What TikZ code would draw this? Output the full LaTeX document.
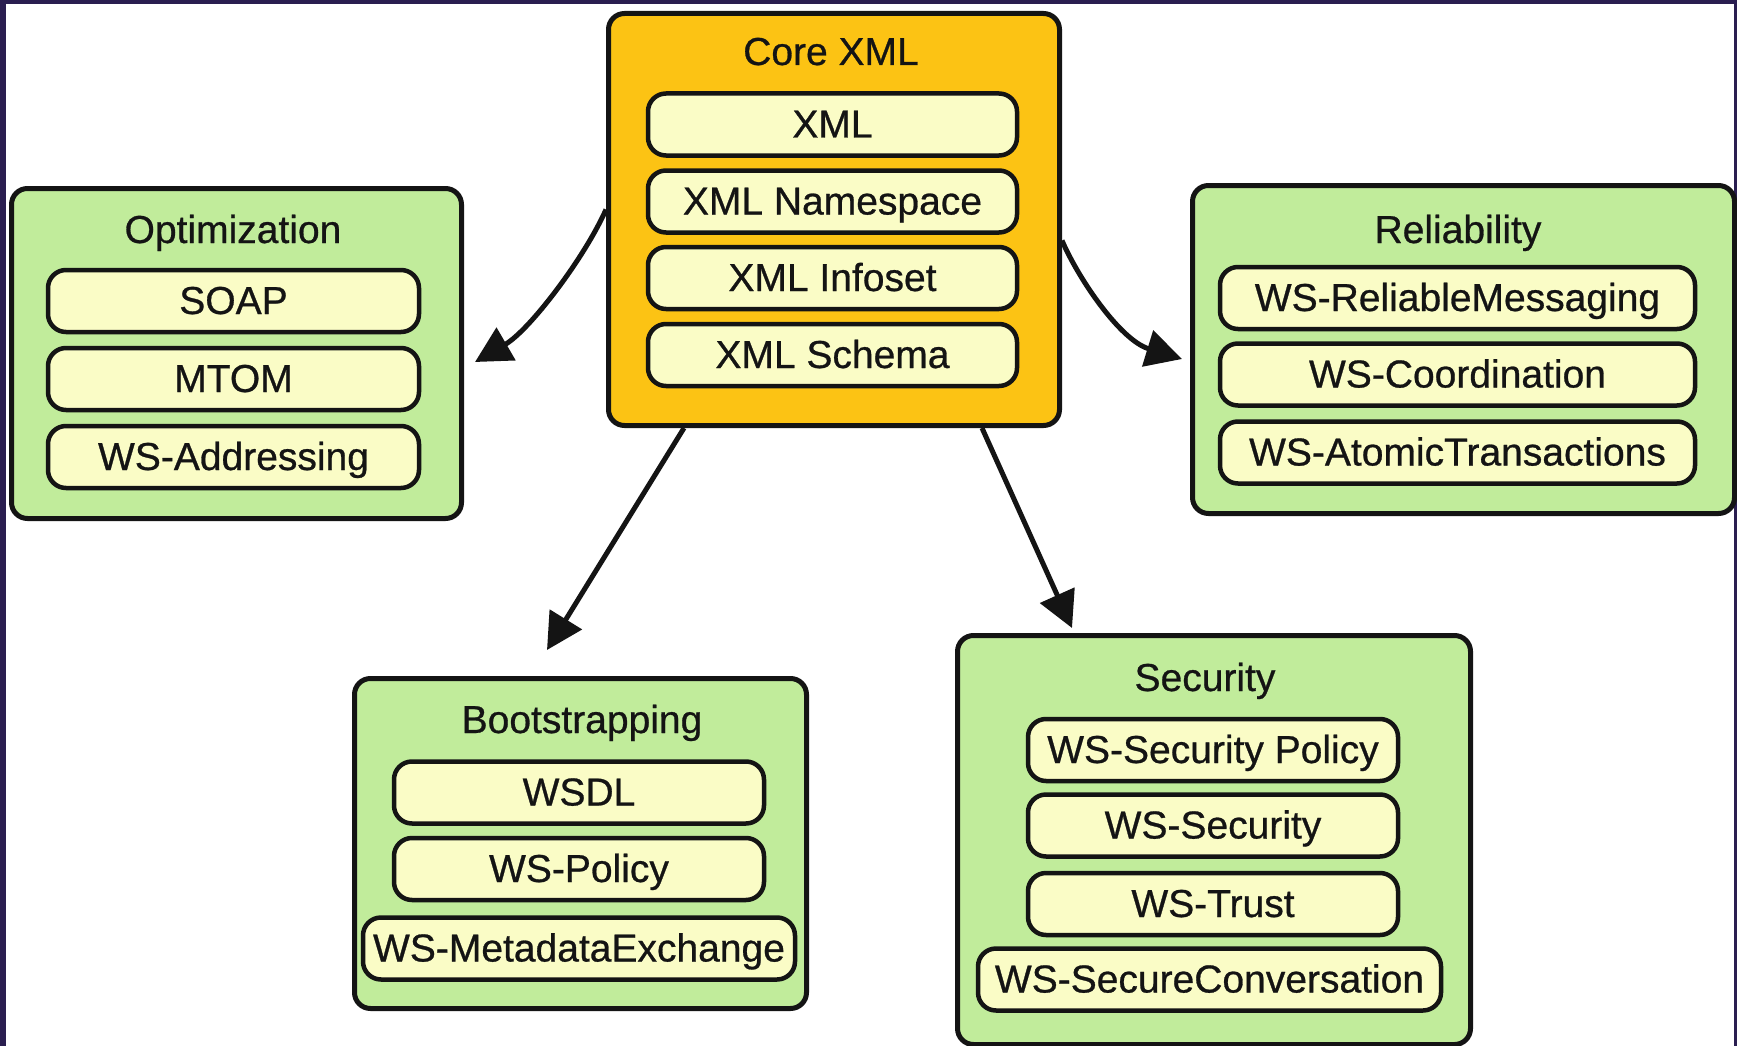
\documentclass[tikz,border=0pt]{standalone}
\usepackage{fontspec}
\setmainfont{Liberation Sans}[FakeBold=0.7]
\usetikzlibrary{arrows.meta}
\definecolor{framec}{HTML}{2A1E50}
\definecolor{corefill}{HTML}{FCC314}
\definecolor{grpfill}{HTML}{C1EC9B}
\definecolor{itemfill}{HTML}{FAFCC6}
\definecolor{ink}{HTML}{141414}
\tikzset{
  grp/.style={draw=ink, line width=5pt, rounded corners=16pt, fill=grpfill, anchor=north west, inner sep=0pt},
  corebox/.style={grp, fill=corefill},
  item/.style={draw=ink, line width=4.5pt, rounded corners=18pt, fill=itemfill, inner sep=0pt,
    font=\fontsize{39}{41}\selectfont, text=ink, text height=28pt, text depth=2pt, minimum height=62pt},
  ttl/.style={font=\fontsize{39}{41}\selectfont, text=ink, inner sep=0pt, text height=28pt, text depth=2pt},
  conn/.style={draw=ink, line width=5pt, -{Triangle[length=36pt,width=37pt]}},
}
\begin{document}
\begin{tikzpicture}[x=1pt,y=-1pt]
\useasboundingbox (0,0) rectangle (1737,1046);
% frame
\fill[framec] (0,0) rectangle (1737,1046);
\fill[white] (6,4) rectangle (1734,1046);

% Core XML
\node[corebox, minimum width=451pt, minimum height=412pt] (core) at (606,11) {};
\node[ttl] (coret) at (831,52) {Core XML};
\node[item, minimum width=369pt] (xml) at (832.5,124.5) {XML};
\node[item, minimum width=369pt] (xmlns) at (832.5,201.5) {XML Namespace};
\node[item, minimum width=369pt] (xmlinf) at (832.5,278) {XML Infoset};
\node[item, minimum width=369pt] (xmlsch) at (832.5,355) {XML Schema};

% Optimization
\node[grp, minimum width=450pt, minimum height=330pt] (opt) at (9,186) {};
\node[ttl] (optt) at (233,230) {Optimization};
\node[item, minimum width=371pt] (soap) at (233.5,301) {SOAP};
\node[item, minimum width=371pt] (mtom) at (233.5,379) {MTOM};
\node[item, minimum width=371pt] (wsa) at (233.5,457) {WS-Addressing};

% Reliability
\node[grp, minimum width=542pt, minimum height=328pt] (rel) at (1190,183) {};
\node[ttl] (relt) at (1458,230) {Reliability};
\node[item, minimum width=475pt] (wsrm) at (1457.5,298) {WS-ReliableMessaging};
\node[item, minimum width=475pt] (wsc) at (1457.5,374.5) {WS-Coordination};
\node[item, minimum width=475pt] (wsat) at (1457.5,452.5) {WS-AtomicTransactions};

% Bootstrapping
\node[grp, minimum width=452pt, minimum height=330pt] (boot) at (352,676) {};
\node[ttl] (boott) at (582,720) {Bootstrapping};
\node[item, minimum width=370pt] (wsdl) at (579,792.5) {WSDL};
\node[item, minimum width=370pt] (wsp) at (579,869) {WS-Policy};
\node[item, minimum width=432pt] (wsme) at (579,948.5) {WS-MetadataExchange};

% Security
\node[grp, minimum width=513pt, minimum height=409pt] (sec) at (955,633) {};
\node[ttl] (sect) at (1205,678) {Security};
\node[item, minimum width=370pt] (wssp) at (1213,750) {WS-Security Policy};
\node[item, minimum width=370pt] (wss) at (1213,825.5) {WS-Security};
\node[item, minimum width=370pt] (wst) at (1213,904) {WS-Trust};
\node[item, minimum width=463pt] (wssc) at (1209.5,979.5) {WS-SecureConversation};

% arrow ends
\coordinate (optend) at (475,362);
\coordinate (relend) at (1182,359);
\coordinate (bootend) at (547,650);
\coordinate (secend) at (1072,628);

\draw[conn] ([yshift=10pt]core.west) .. controls (585,257) and (530,330) .. (optend);
\draw[conn] ([yshift=-21pt]core.east) .. controls (1078,278) and (1120,340) .. (relend);
\draw[conn] ([xshift=-150pt]core.south) -- (bootend);
\draw[conn] ([xshift=148pt]core.south) -- (secend);
\end{tikzpicture}
\end{document}
